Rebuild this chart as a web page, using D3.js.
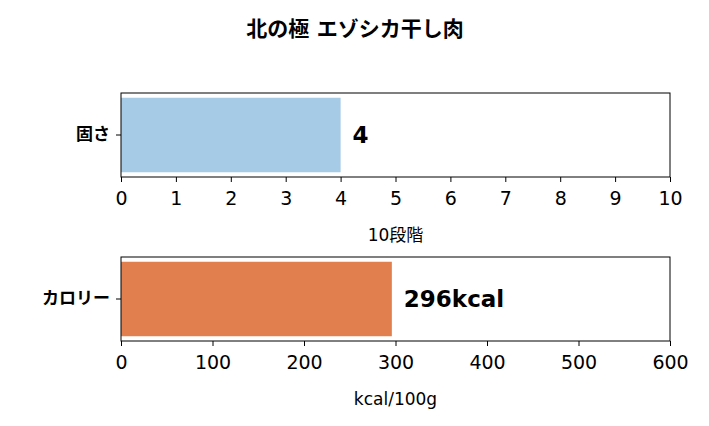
<!DOCTYPE html>
<html><head><meta charset="utf-8">
<script src="https://cdn.jsdelivr.net/npm/d3@7"></script>
<style>body{margin:0;background:#fff}svg{font-family:"DejaVu Sans","Noto Sans CJK JP",sans-serif}</style>
</head><body><svg id="c" width="709" height="426"></svg>
<script>
const title = "北の極 エゾシカ干し肉"
const labels = ["固さ", "カロリー"]
const values = [4, 296]
const valueTexts = ["4", "296kcal"]
const maxes = [10, 600]
const tickSteps = [1, 100]
const xLabels = ["10段階", "kcal/100g"]
const colors = ["#a6cbe7", "#e1804e"]

let svg = d3.select("#c")
let left = 121, right = 670, panelH = 84
let tops = [93, 257]
let fam = "DejaVu Sans, Noto Sans CJK JP, sans-serif"

svg.append("text").attr("x", 355).attr("y", 36).attr("text-anchor", "middle")
    .attr("font-size", 21).attr("font-weight", "bold").text(title)

labels.forEach((lab, i) => {
    let top = tops[i]
    let x = d3.scaleLinear().domain([0, maxes[i]]).range([left, right])
    let y = d3.scaleBand().domain([lab]).range([top, top + panelH]).padding(0.06)
    let g = svg.append("g")
    g.append("rect").attr("x", x(0)).attr("y", y(lab)).attr("width", x(values[i]) - x(0))
        .attr("height", y.bandwidth()).attr("fill", colors[i])
    g.append("rect").attr("x", left).attr("y", top).attr("width", right - left).attr("height", panelH)
        .attr("fill", "none").attr("stroke", "#000").attr("stroke-width", 1)
    g.append("text").attr("x", x(values[i]) + 12).attr("y", y(lab) + y.bandwidth() / 2)
        .attr("dy", "0.35em").attr("font-size", 23).attr("font-weight", "bold").text(valueTexts[i])
    // x axis
    let ax = g.append("g").attr("transform", `translate(0,${top + panelH})`)
        .call(d3.axisBottom(x).tickValues(d3.range(0, maxes[i] + 1, tickSteps[i])).tickSize(5).tickPadding(10))
    ax.select(".domain").remove()
    ax.selectAll("text").attr("font-size", 19).attr("font-family", fam).attr("fill", "#000")
    // y axis
    let ay = g.append("g").attr("transform", `translate(${left},0)`)
        .call(d3.axisLeft(y).tickSize(5).tickPadding(6))
    ay.select(".domain").remove()
    ay.selectAll("text").attr("font-size", 17).attr("font-weight", "bold")
        .attr("font-family", "Noto Sans CJK JP").attr("fill", "#000")
    g.append("text").attr("x", (left + right) / 2).attr("y", top + panelH + 64)
        .attr("text-anchor", "middle").attr("font-size", 17).text(xLabels[i])
})
</script></body></html>
